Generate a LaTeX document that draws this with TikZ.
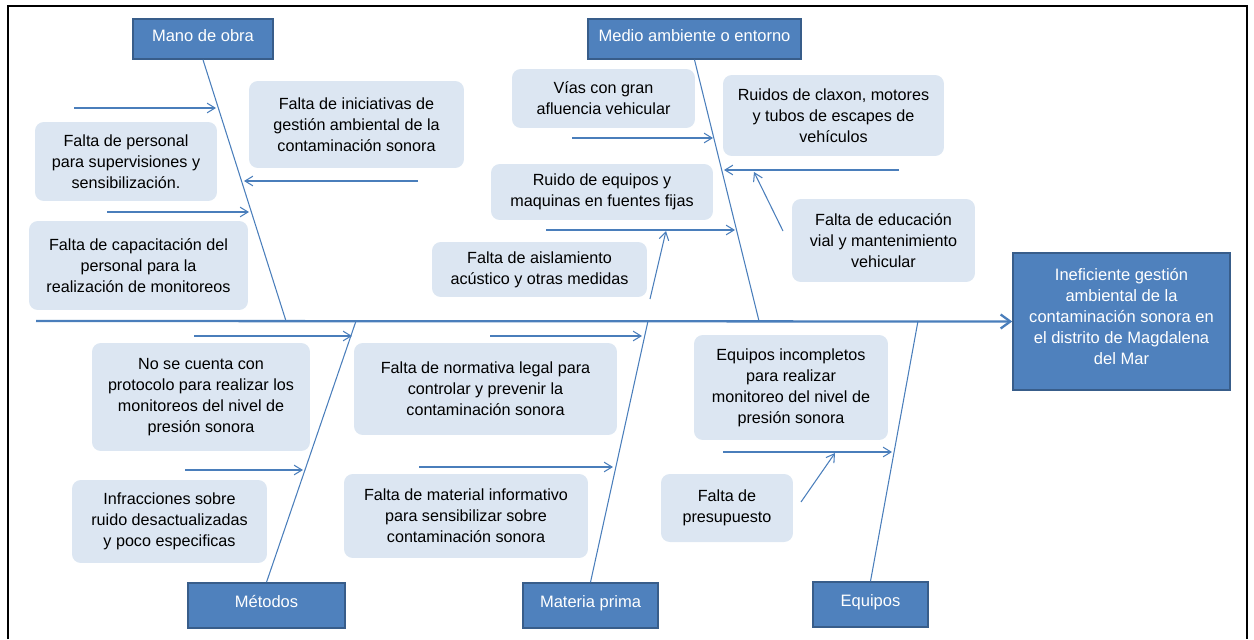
\documentclass[tikz,border=0pt]{standalone}
\usepackage{fontspec}
\setmainfont{Liberation Sans}
\usepackage{tikz}
\usetikzlibrary{arrows.meta}
\definecolor{azulcat}{HTML}{4F81BD}
\definecolor{bordecat}{HTML}{385D8A}
\definecolor{azulclaro}{HTML}{DCE6F2}
\definecolor{linea}{HTML}{4A7EBB}
\begin{document}
\begin{tikzpicture}[x=0.02cm,y=-0.02cm,
	causa/.style={rectangle,rounded corners=5pt,fill=azulclaro,align=center,inner sep=0pt,font=\fontsize{9.2}{12}\selectfont},
	categoria/.style={rectangle,fill=azulcat,draw=bordecat,line width=0.9pt,text=white,align=center,inner sep=0pt,font=\fontsize{9.4}{12}\selectfont},
	etiqueta/.style={categoria,text height=7pt,text depth=4.5pt},
	espina/.style={draw=linea,line width=0.6pt},
	flecha/.style={draw=linea,line width=0.6pt,-{Straight Barb[length=4.5pt,width=5.5pt]}}]
	\useasboundingbox (0,0) rectangle (1254,639);
	\draw[line width=1.2pt] (8,639) -- (8,6) -- (1247,6) -- (1247,639);

	% categorias y efecto
	\node[etiqueta,minimum width=2.8cm,minimum height=0.8cm] (mo) at (203,39) {Mano de obra};
	\node[etiqueta,minimum width=4.26cm,minimum height=0.8cm] (ma) at (694.5,39) {Medio ambiente o entorno};
	\node[etiqueta,minimum width=3.14cm,minimum height=0.9cm] (met) at (266.5,605.5) {Métodos};
	\node[etiqueta,minimum width=2.7cm,minimum height=0.9cm] (mp) at (590.5,605.5) {Materia prima};
	\node[etiqueta,minimum width=2.3cm,minimum height=0.9cm] (eq) at (870.5,604.5) {Equipos};
	\node[categoria,minimum width=4.34cm,minimum height=2.74cm,text depth=6pt] (efecto) at (1121.5,321.5) {Ineficiente gestión\\ambiental de la\\contaminación sonora en\\el distrito de Magdalena\\del Mar};

	% causas
	\node[causa,minimum width=4.3cm,minimum height=1.74cm] (iniciativas) at (356.5,124.5) {Falta de iniciativas de\\gestión ambiental de la\\contaminación sonora};
	\node[causa,minimum width=3.64cm,minimum height=1.58cm] (personal) at (126,161.5) {Falta de personal\\para supervisiones y\\sensibilización.};
	\node[causa,minimum width=4.38cm,minimum height=1.78cm] (capacitacion) at (138.5,265.5) {Falta de capacitación del\\personal para la\\realización de monitoreos};
	\node[causa,minimum width=3.66cm,minimum height=1.18cm] (vias) at (603.5,98.5) {Vías con gran\\afluencia vehicular};
	\node[causa,minimum width=4.42cm,minimum height=1.62cm] (claxon) at (833.5,115.5) {Ruidos de claxon, motores\\y tubos de escapes de\\vehículos};
	\node[causa,minimum width=4.44cm,minimum height=1.12cm] (fijas) at (602,192) {Ruido de equipos y\\maquinas en fuentes fijas};
	\node[causa,minimum width=4.3cm,minimum height=1.1cm] (aislamiento) at (539.5,269.5) {Falta de aislamiento\\acústico y otras medidas};
	\node[causa,minimum width=3.66cm,minimum height=1.66cm] (educacion) at (883.5,240.5) {Falta de educación\\vial y mantenimiento\\vehicular};
	\node[causa,minimum width=4.36cm,minimum height=2.16cm] (protocolo) at (201,397) {No se cuenta con\\protocolo para realizar los\\monitoreos del nivel de\\presión sonora};
	\node[causa,minimum width=3.9cm,minimum height=1.66cm] (infracciones) at (169.5,521.5) {Infracciones sobre\\ruido desactualizadas\\y poco especificas};
	\node[causa,minimum width=5.26cm,minimum height=1.84cm] (normativa) at (485.5,389) {Falta de normativa legal para\\controlar y prevenir la\\contaminación sonora};
	\node[causa,minimum width=4.88cm,minimum height=1.68cm] (material) at (466,516) {Falta de material informativo\\para sensibilizar sobre\\contaminación sonora};
	\node[causa,minimum width=3.88cm,minimum height=2.1cm] (incompletos) at (791,387.5) {Equipos incompletos\\para realizar\\monitoreo del nivel de\\presión sonora};
	\node[causa,minimum width=2.64cm,minimum height=1.36cm] (presupuesto) at (727,508) {Falta de\\presupuesto};

	% espina central y espinas
	\coordinate (cola) at (36,321);
	\coordinate (mo-fin) at (286,321);
	\coordinate (ma-fin) at (759,321);
	\coordinate (met-fin) at (356,321);
	\coordinate (mp-fin) at (648,321);
	\coordinate (eq-fin) at (918,321);
	\draw[draw=linea,line width=1.3pt,-{Straight Barb[length=5.5pt,width=8pt]}] (cola) -- (efecto.west);
	\path[every edge/.style=espina] (mo.south) edge (mo-fin)
		(ma.south) edge (ma-fin)
		(met.north) edge (met-fin)
		(mp.north) edge (mp-fin)
		(eq.north) edge (eq-fin);

	% flechas de causas
	\coordinate (a1) at (74,108);   \coordinate (a1f) at (216,108);
	\coordinate (a2) at (418,181);  \coordinate (a2f) at (244,181);
	\coordinate (a3) at (107,212);  \coordinate (a3f) at (249,212);
	\coordinate (b1) at (572,138);  \coordinate (b1f) at (713,138);
	\coordinate (b2) at (899,170);  \coordinate (b2f) at (724,170);
	\coordinate (b3) at (783,231);  \coordinate (b3f) at (754,172);
	\coordinate (b4) at (546,230);  \coordinate (b4f) at (735,230);
	\coordinate (b5) at (650,299);  \coordinate (b5f) at (666,231);
	\coordinate (c1) at (194,336);  \coordinate (c1f) at (352,336);
	\coordinate (c2) at (185,470);  \coordinate (c2f) at (303,470);
	\coordinate (d1) at (490,336);  \coordinate (d1f) at (642,336);
	\coordinate (d2) at (419,467);  \coordinate (d2f) at (613,467);
	\coordinate (e1) at (723,452);  \coordinate (e1f) at (892,452);
	\coordinate (e2) at (801,502);  \coordinate (e2f) at (835,453);
	\path[every edge/.style=flecha] (a1) edge (a1f) (a2) edge (a2f) (a3) edge (a3f)
		(b1) edge (b1f) (b2) edge (b2f) (b3) edge (b3f) (b4) edge (b4f) (b5) edge (b5f)
		(c1) edge (c1f) (c2) edge (c2f)
		(d1) edge (d1f) (d2) edge (d2f)
		(e1) edge (e1f) (e2) edge (e2f);
\end{tikzpicture}
\end{document}
